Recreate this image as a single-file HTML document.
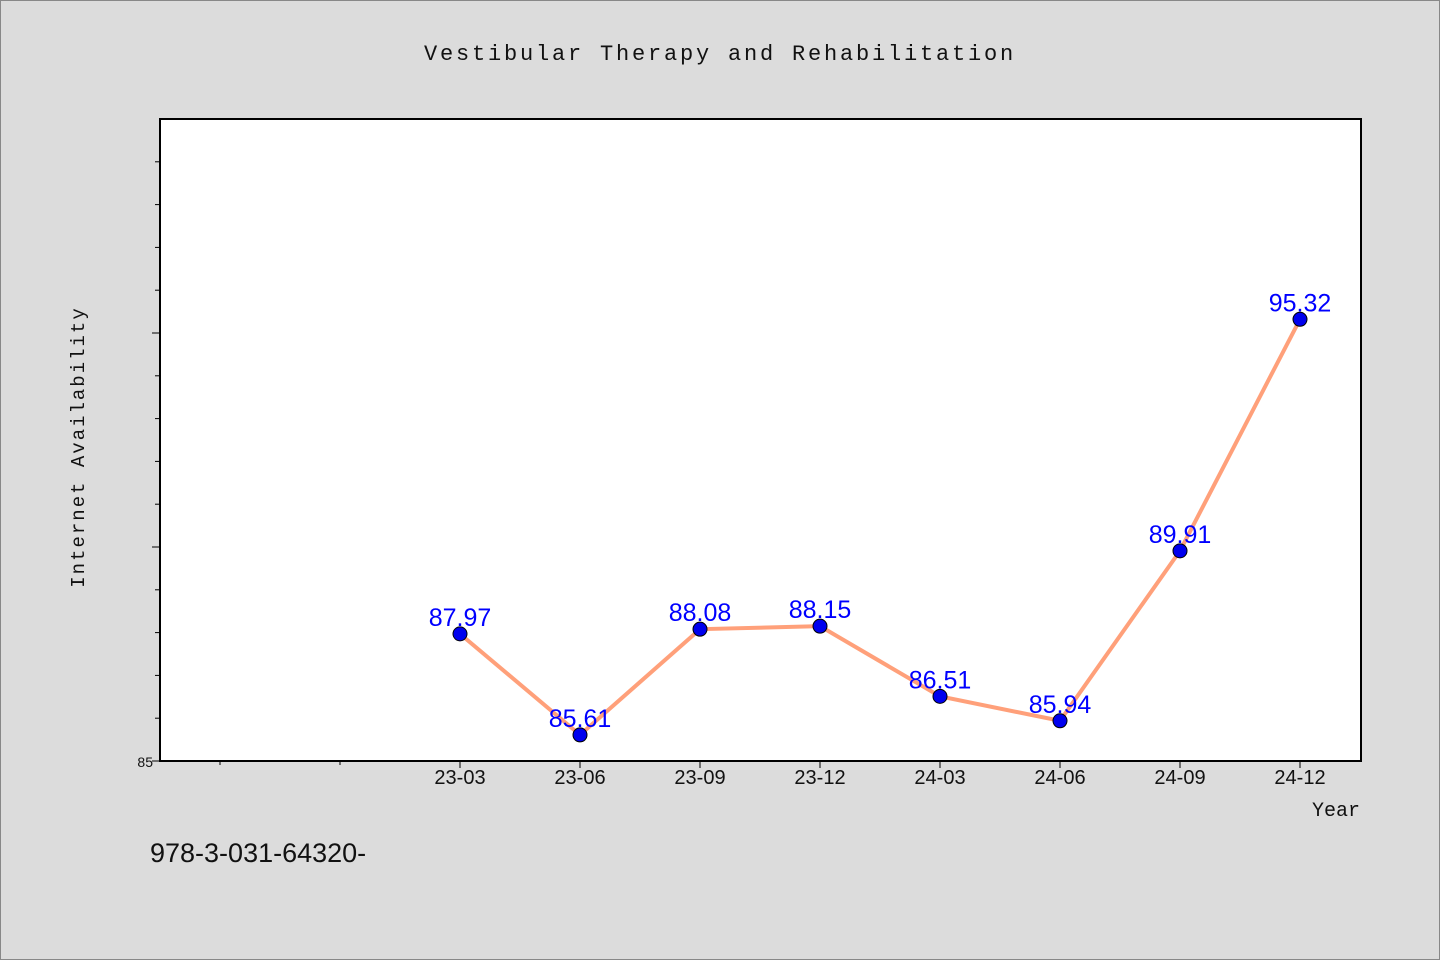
<!DOCTYPE html>
<html><head><meta charset="utf-8"><style>
body{margin:0;background:#dcdcdc;}
svg{display:block}
</style></head><body>
<svg width="1440" height="960" xmlns="http://www.w3.org/2000/svg">
<rect x="0.5" y="0.5" width="1439" height="959" fill="#dcdcdc" stroke="#888"/>
<text x="720" y="60" text-anchor="middle" font-family="Liberation Mono, monospace" font-size="22" letter-spacing="2.8" fill="#111">Vestibular Therapy and Rehabilitation</text>
<rect x="160" y="119" width="1201" height="642" fill="#fff" stroke="#000" stroke-width="2"/>
<g id="axes"></g>
<g id="series"></g>
<text transform="translate(84,447) rotate(-90)" text-anchor="middle" font-family="Liberation Mono, monospace" font-size="19" letter-spacing="2" fill="#111">Internet Availability</text>
<text x="1360" y="816" text-anchor="end" font-family="Liberation Mono, monospace" font-size="20" fill="#111">Year</text>
<text x="150" y="862" font-family="Liberation Sans, sans-serif" font-size="27" fill="#111">978-3-031-64320-</text>
</svg>
<script>
const categories=["23-03","23-06","23-09","23-12","24-03","24-06","24-09","24-12"];
const values=[87.97,85.61,88.08,88.15,86.51,85.94,89.91,95.32];
const labels=["87.97","85.61","88.08","88.15","86.51","85.94","89.91","95.32"];
const yMin=85,yMax=100;
const NS="http://www.w3.org/2000/svg";
const top_=119,bot=761;
const y=v=>bot-(v-yMin)/(yMax-yMin)*(bot-top_);
const x=i=>460+i*120;
function mk(t,a,p){const e=document.createElementNS(NS,t);for(const k in a)e.setAttribute(k,a[k]);p.appendChild(e);return e;}
const ax=document.getElementById('axes'),se=document.getElementById('series');
for(let v=yMin;v<yMax;v++){const len=(v%5===0)?8:5;const t=mk('line',{x1:160-len,x2:160,y1:y(v),y2:y(v),stroke:'#000'},ax);

}
const yl=mk('text',{x:153,y:767,'text-anchor':'end','font-family':'Liberation Sans, sans-serif','font-size':14,fill:'#111'},ax);yl.textContent='85';


for(let i=-2;i<categories.length;i++){const t=mk('line',{x1:x(i),x2:x(i),y1:bot,y2:bot+(i<0?4:7),stroke:'#000'},ax);


if(i>=0){const l=mk('text',{x:x(i),y:bot+23,'text-anchor':'middle','font-family':'Liberation Sans, sans-serif','font-size':20,fill:'#111'},ax);l.textContent=categories[i];

}}
const pl=mk('polyline',{points:values.map((v,i)=>x(i)+','+y(v)).join(' '),fill:'none',stroke:'#ffa07a','stroke-width':4},se);


values.forEach((v,i)=>{const c=mk('circle',{cx:x(i),cy:y(v),r:7,fill:'#0000ee',stroke:'#000','stroke-width':1},se);


const t=mk('text',{x:x(i),y:y(v)-8,'text-anchor':'middle','font-family':'Liberation Sans, sans-serif','font-size':25,fill:'#0000ff'},se);t.textContent=labels[i];

});
</script>
</body></html>
